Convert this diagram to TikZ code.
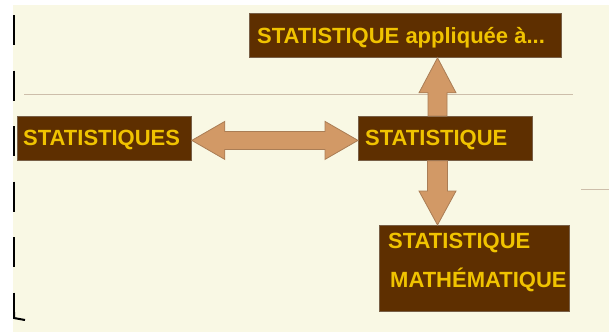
\documentclass[tikz,border=0pt]{standalone}
\usepackage{fontspec}
\setmainfont{Liberation Sans}
\usetikzlibrary{calc}
\definecolor{bg}{RGB}{249,248,228}
\definecolor{boxbrown}{RGB}{94,47,0}
\definecolor{boxedge}{RGB}{120,95,70}
\definecolor{txtyellow}{RGB}{240,195,0}
\definecolor{arrfill}{RGB}{210,153,102}
\definecolor{arredge}{RGB}{170,125,85}
\definecolor{rule}{RGB}{205,190,170}
\tikzset{
  boxshape/.style={fill=boxbrown, draw=boxedge, line width=0.8pt, inner sep=0pt, anchor=north west},
  lbl/.style={text=txtyellow, inner sep=0pt, anchor=base west, font=\fontsize{22}{26}\selectfont\bfseries},
  arr/.style={fill=arrfill, draw=arredge, line width=0.8pt, line join=miter},
  thinrule/.style={draw=rule, line width=1pt},
  edgemark/.style={draw=black, line width=2.5pt, dash pattern=on 30pt off 25.5pt}
}
\begin{document}
\begin{tikzpicture}[x=1pt,y=-1pt]
\useasboundingbox (0,0) rectangle (609,332);
\fill[white] (0,0) rectangle (609,332);
\fill[bg] (13,5) rectangle (609,332);
% decorations
\draw[edgemark] (14,15) -- (14,318);
\draw[black, line width=2pt] (14,312) -- (14,318) -- (25,320);
\draw[thinrule] (24,94) -- (573,94);
\draw[thinrule] (581,189) -- (609,189);
% boxes
\node[boxshape, minimum width=312pt, minimum height=44pt] (appl) at (249,13) {};
\node[boxshape, minimum width=174pt, minimum height=44pt] (stats) at (17,116) {};
\node[boxshape, minimum width=174pt, minimum height=44pt] (stat) at (358,116) {};
\node[boxshape, minimum width=190pt, minimum height=86pt] (math) at (379,225) {};
% arrows
\coordinate (ltip) at ($(stats.east)+(0,2)$);
\coordinate (rtip) at ($(stat.west)+(0,2)$);
\draw[arr] (ltip) -- ($(ltip)+(33,-19)$) -- ($(ltip)+(33,-9)$) -- ($(rtip)+(-33,-9)$) -- ($(rtip)+(-33,-19)$) -- (rtip)
  -- ($(rtip)+(-33,19)$) -- ($(rtip)+(-33,9)$) -- ($(ltip)+(33,9)$) -- ($(ltip)+(33,19)$) -- cycle;
\coordinate (upbase) at ($(stat.north west)+(79.5,0)$);
\coordinate (uptip) at (upbase |- appl.south);
\draw[arr] (uptip) -- ($(uptip)+(18.5,35)$) -- ($(uptip)+(9.5,35)$) -- ($(upbase)+(9.5,0)$) -- ($(upbase)+(-9.5,0)$)
  -- ($(uptip)+(-9.5,35)$) -- ($(uptip)+(-18.5,35)$) -- cycle;
\coordinate (dnbase) at ($(stat.south west)+(79.5,0)$);
\coordinate (dntip) at (dnbase |- math.north);
\draw[arr] (dntip) -- ($(dntip)+(18.5,-34)$) -- ($(dntip)+(10,-34)$) -- ($(dnbase)+(10,0)$) -- ($(dnbase)+(-10,0)$)
  -- ($(dntip)+(-10,-34)$) -- ($(dntip)+(-18.5,-34)$) -- cycle;
% labels
\node[lbl] (applt) at ($(appl.north west)+(8,30)$) {STATISTIQUE appliquée à...};
\node[lbl] (statst) at ($(stats.north west)+(6,29)$) {STATISTIQUES};
\node[lbl] (statt) at ($(stat.north west)+(7,29)$) {STATISTIQUE};
\node[lbl] (matht1) at ($(math.north west)+(9,23)$) {STATISTIQUE};
\node[lbl] (matht2) at ($(math.north west)+(11,62)$) {MATHÉMATIQUE};
\end{tikzpicture}
\end{document}
